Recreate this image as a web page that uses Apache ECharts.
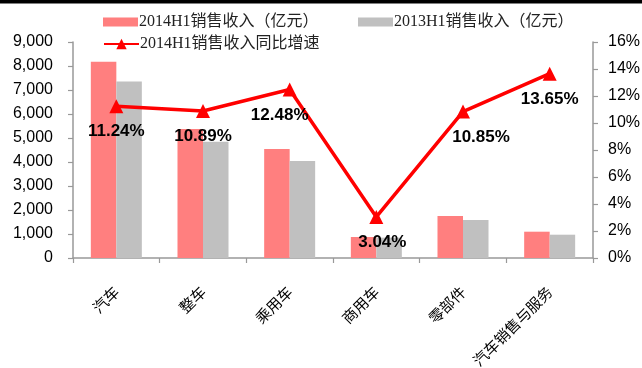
<!DOCTYPE html>
<html>
<head>
<meta charset="utf-8">
<script src="https://cdn.jsdelivr.net/npm/echarts@6/dist/echarts.min.js"></script>
<style>html,body{margin:0;padding:0;background:#fff}#c{width:642px;height:368px}</style>
</head>
<body>
<div id="c"></div>
<script>
var categories = ['汽车', '整车', '乘用车', '商用车', '零部件', '汽车销售与服务'];
var rev2014 = [8180, 5375, 4542, 875, 1750, 1096];
var rev2013 = [7350, 4846, 4042, 849, 1583, 971];
var growth = [11.24, 10.89, 12.48, 3.04, 10.85, 13.65];
var leftTicks = [0, 9000, 1000];
var rightTicks = [0, 16, 2];
var seriesNames = ['2014H1销售收入（亿元）', '2013H1销售收入（亿元）', '2014H1销售收入同比增速'];
var labelShift = [0, 0, -10, 6, 18, 0];

var chart = echarts.init(document.getElementById('c'), null, {renderer: 'canvas'});
var axisColor = '#999999';
var numFont = "'Liberation Sans', Arial, sans-serif";
var legendFont = "'Liberation Serif', 'Noto Sans CJK SC', serif";
var legendText = {fontFamily: legendFont, fontSize: 16, color: '#222', padding: [0, 0, 0, -4]};

chart.setOption({
  animation: false,
  graphic: [{type: 'rect', left: 0, top: 0, shape: {width: 642, height: 3.5}, style: {fill: '#000'}}],
  legend: [
    {data: [seriesNames[0]], left: 98, top: 9, itemWidth: 35, itemHeight: 9, itemGap: 4, textStyle: legendText, icon: 'rect'},
    {data: [seriesNames[1]], left: 353, top: 9, itemWidth: 35, itemHeight: 9, itemGap: 4, textStyle: legendText, icon: 'rect'},
    {data: [seriesNames[2]], left: 98, top: 31, itemWidth: 35, itemHeight: 13, itemGap: 4, textStyle: legendText}
  ],
  grid: {left: 73, right: 49, top: 42, bottom: 110, containLabel: false, outerBoundsMode: 'none'},
  xAxis: {
    type: 'category',
    data: categories,
    boundaryGap: true,
    axisLine: {lineStyle: {color: axisColor, width: 1.5}},
    axisTick: {show: true, length: 5, lineStyle: {color: axisColor, width: 1.2}},
    axisLabel: {rotate: 45, margin: 31, interval: 0, color: '#000', fontSize: 15, fontFamily: "'Noto Sans CJK SC', sans-serif"}
  },
  yAxis: [
    {
      type: 'value', min: leftTicks[0], max: leftTicks[1], interval: leftTicks[2],
      axisLine: {show: true, lineStyle: {color: axisColor, width: 1.5}},
      axisTick: {show: true, length: 5, lineStyle: {color: axisColor, width: 1.2}},
      splitLine: {show: false},
      axisLabel: {margin: 20, color: '#000', fontSize: 16, fontFamily: numFont,
        formatter: function (v) { return v.toLocaleString('en-US'); }}
    },
    {
      type: 'value', min: rightTicks[0], max: rightTicks[1], interval: rightTicks[2],
      position: 'right',
      axisLine: {show: true, lineStyle: {color: axisColor, width: 1.5}},
      axisTick: {show: true, length: 5, lineStyle: {color: axisColor, width: 1.2}},
      splitLine: {show: false},
      axisLabel: {margin: 15, color: '#000', fontSize: 16, fontFamily: numFont, formatter: '{value}%'}
    }
  ],
  series: [
    {name: seriesNames[0], type: 'bar', data: rev2014, barWidth: 25.5, barGap: '0%', itemStyle: {color: '#FF7F7F'}},
    {name: seriesNames[1], type: 'bar', data: rev2013, barWidth: 25.5, barGap: '0%', itemStyle: {color: '#C0C0C0'}},
    {
      name: seriesNames[2], type: 'line', yAxisIndex: 1,
      data: growth.map(function (v, i) {
        return {value: v, label: {offset: [labelShift[i], 0]}};
      }),
      symbol: 'triangle', symbolSize: 14,
      lineStyle: {color: '#FF0000', width: 3.5},
      itemStyle: {color: '#FF0000'},
      z: 5,
      label: {
        show: true, position: 'bottom', distance: 10,
        formatter: function (p) { return p.value.toFixed(2) + '%'; },
        fontFamily: numFont, fontWeight: 'bold', fontSize: 17, color: '#000'
      }
    }
  ]
});
</script>
</body>
</html>
